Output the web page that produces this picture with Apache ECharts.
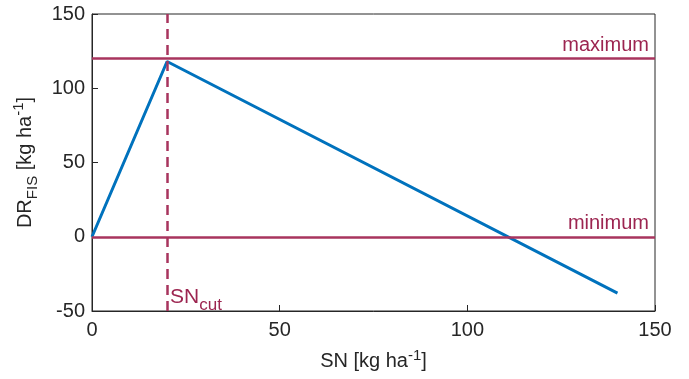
<!DOCTYPE html>
<html>
<head>
<meta charset="utf-8">
<script src="https://cdn.jsdelivr.net/npm/echarts@6/dist/echarts.min.js"></script>
<style>
    html, body {margin: 0; padding: 0; background: #fff;}
    #chart {width: 689px; height: 379px;}
</style>
</head>
<body>
<div id="chart"></div>
<script>
// DR_FIS as a function of SN
const snValues = [0, 20, 140];
const drValues = [0, 118, -38];
const snCut = 20;
const maxLevel = 120;
const minLevel = 0;
const xTicks = [0, 50, 100, 150];
const yTicks = [-50, 0, 50, 100, 150];

const axisColor = '#262626';
const blue = '#0072BD';
const red = '#A8345E';
const redText = '#9C2550';
const font = 'Liberation Sans, Arial, sans-serif';

const chart = echarts.init(document.getElementById('chart'));

const option = {
    animation: false,
    textStyle: {fontFamily: font},
    grid: {
        left: 92,
        right: 34,
        top: 14,
        bottom: 68,
        show: true,
        borderColor: axisColor,
        borderWidth: 1,
        backgroundColor: 'transparent'
    },
    xAxis: {
        type: 'value',
        min: xTicks[0],
        max: xTicks[xTicks.length - 1],
        interval: 50,
        name: '{n|SN [kg ha}{sup|-1}{n|]}',
        nameLocation: 'middle',
        nameGap: 37,
        nameTextStyle: {
            rich: {
                n: {fontSize: 20, color: axisColor, fontFamily: font},
                sup: {fontSize: 15, color: axisColor, fontFamily: font, padding: [0, 0, 12, 0]}
            }
        },
        axisLine: {onZero: false, lineStyle: {color: axisColor}},
        axisTick: {inside: true, length: 6, lineStyle: {color: axisColor}},
        axisLabel: {fontSize: 20, color: axisColor, margin: 9},
        splitLine: {show: false}
    },
    yAxis: {
        type: 'value',
        min: yTicks[0],
        max: yTicks[yTicks.length - 1],
        interval: 50,
        name: '{n|DR}{sub|FIS}{n| [kg ha}{sup|-1}{n|]}',
        nameLocation: 'middle',
        nameGap: 50,
        nameTextStyle: {
            rich: {
                n: {fontSize: 20, color: axisColor, fontFamily: font},
                sub: {fontSize: 15, color: axisColor, fontFamily: font, padding: [16, 0, 0, 0]},
                sup: {fontSize: 15, color: axisColor, fontFamily: font, padding: [0, 0, 12, 0]}
            }
        },
        axisLine: {show: true, onZero: false, lineStyle: {color: axisColor}},
        axisTick: {show: true, inside: true, length: 6, lineStyle: {color: axisColor}},
        axisLabel: {fontSize: 20, color: axisColor, margin: 7},
        splitLine: {show: false}
    },
    series: [
        {
            name: 'DR',
            type: 'line',
            data: snValues.map((x, i) => [x, drValues[i]]),
            symbol: 'none',
            lineStyle: {color: blue, width: 3},
            z: 3
        },
        {
            name: 'limits',
            type: 'line',
            data: [],
            markLine: {
                silent: true,
                symbol: 'none',
                animation: false,
                data: [
                    {
                        yAxis: maxLevel,
                        lineStyle: {color: red, width: 2.5, type: 'solid'},
                        label: {
                            show: true, position: 'insideEndTop', formatter: 'maximum',
                            color: redText, fontSize: 20, fontFamily: font, distance: [6, 3]
                        }
                    },
                    {
                        yAxis: minLevel,
                        lineStyle: {color: red, width: 2.5, type: 'solid'},
                        label: {
                            show: true, position: 'insideEndTop', formatter: 'minimum',
                            color: redText, fontSize: 20, fontFamily: font, distance: [6, 3]
                        }
                    },
                    {
                        xAxis: snCut,
                        lineStyle: {color: red, width: 2.5, type: [10, 6]},
                        label: {show: false}
                    }
                ]
            },
            markPoint: {
                silent: true,
                symbolSize: 0,
                data: [{
                    coord: [snCut, -41],
                    label: {
                        show: true,
                        position: 'right',
                        distance: 3,
                        formatter: '{n|SN}{sub|cut}',
                        rich: {
                            n: {fontSize: 21, color: redText, fontFamily: font},
                            sub: {fontSize: 17, color: redText, fontFamily: font, padding: [16, 0, 0, 0]}
                        }
                    }
                }]
            },
            z: 2
        }
    ]
};

chart.setOption(option);
</script>
</body>
</html>
